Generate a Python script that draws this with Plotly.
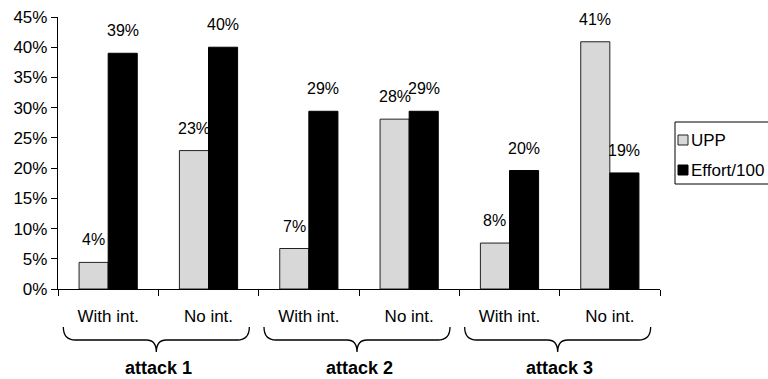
import plotly.graph_objects as go

# Chart data
categories = ["With int.", "No int.", "With int.", "No int.", "With int.", "No int."]
groups = ["attack 1", "attack 2", "attack 3"]
upp = [4.4, 22.9, 6.7, 28.1, 7.6, 40.9]
effort = [39.0, 40.0, 29.4, 29.4, 19.6, 19.2]
series_names = ["UPP", "Effort/100"]
y_ticks = [0, 5, 10, 15, 20, 25, 30, 35, 40, 45]
y_tick_text = [f"{t}%" for t in y_ticks]

FONT = "Liberation Sans, Arial, sans-serif"
W, H = 768, 379
ML, MR, MT, MB = 58, 108, 17, 90
PLOT_W = W - ML - MR
PLOT_H = H - MT - MB

x_pos = list(range(len(categories)))
bar_w = 0.29

fig = go.Figure()
fig.add_trace(go.Bar(
    x=x_pos, y=upp, name=series_names[0], offset=-bar_w, width=bar_w,
    marker=dict(color="#d8d8d8", line=dict(color="#222222", width=1)),
    showlegend=False,
))
fig.add_trace(go.Bar(
    x=x_pos, y=effort, name=series_names[1], offset=0, width=bar_w,
    marker=dict(color="#000000", line=dict(color="#000000", width=1)),
    showlegend=False,
))

annotations = []
# value labels above each bar
for series, shift in ((upp, -bar_w / 2), (effort, bar_w / 2)):
    for i, v in enumerate(series):
        annotations.append(dict(
            x=i + shift, y=v, xref="x", yref="y", text=f"{v:.0f}%",
            showarrow=False, xanchor="center", yanchor="bottom", yshift=12,
            font=dict(family=FONT, size=16, color="black"),
        ))


def px_x(px):
    return (px - ML) / PLOT_W


def px_y(py):
    return (H - MB - py) / PLOT_H


shapes = []
# curly braces grouping the category pairs, with the group titles below
for g, name in enumerate(groups):
    cx = (2 * g + 1) / len(categories)
    shapes.append(dict(
        type="path", xref="paper", yref="paper",
        xsizemode="pixel", ysizemode="pixel", xanchor=cx, yanchor=0,
        path=("M -95,-38 Q -95,-51 -83,-51 L -12,-51 Q -2,-51 -2,-63 "
              "Q -2,-51 8,-51 L 79,-51 Q 91,-51 91,-38"),
        line=dict(color="black", width=1.3),
    ))
    annotations.append(dict(
        x=cx, y=px_y(368), xref="paper", yref="paper", text=f"<b>{name}</b>",
        showarrow=False, xanchor="center", yanchor="middle",
        font=dict(family=FONT, size=18, color="black"),
    ))

# legend box
shapes.append(dict(
    type="rect", xref="paper", yref="paper",
    x0=px_x(675), x1=px_x(800), y0=px_y(184), y1=px_y(122),
    line=dict(color="black", width=1), fillcolor="white",
))
legend_rows = [(series_names[0], "#d8d8d8", "#222222", 140),
               (series_names[1], "#000000", "#000000", 170)]
for label, fill, edge, cy in legend_rows:
    shapes.append(dict(
        type="rect", xref="paper", yref="paper",
        x0=px_x(678), x1=px_x(688), y0=px_y(cy + 5), y1=px_y(cy - 5),
        line=dict(color=edge, width=1), fillcolor=fill,
    ))
    annotations.append(dict(
        x=px_x(689), y=px_y(cy), xref="paper", yref="paper", text=label,
        showarrow=False, xanchor="left", yanchor="middle",
        font=dict(family=FONT, size=17, color="black"),
    ))

fig.update_layout(
    width=W, height=H,
    margin=dict(l=ML, r=MR, t=MT, b=MB, autoexpand=False),
    plot_bgcolor="white", paper_bgcolor="white",
    barmode="overlay",
    shapes=shapes, annotations=annotations,
    font=dict(family=FONT, color="black"),
    xaxis=dict(
        range=[-0.5, len(categories) - 0.5],
        tickvals=x_pos, ticktext=categories, ticks="",
        ticklabelstandoff=11,
        minor=dict(tick0=-0.5, dtick=1, ticks="outside", ticklen=6,
                   tickcolor="black", tickwidth=1.3),
        showline=True, linecolor="black", linewidth=1.3,
        showgrid=False, zeroline=False,
        tickfont=dict(family=FONT, size=17, color="black"),
    ),
    yaxis=dict(
        range=[0, 45], tickvals=y_ticks, ticktext=y_tick_text,
        ticks="outside", ticklen=6, tickcolor="black", tickwidth=1.3,
        showline=True, linecolor="black", linewidth=1.3,
        showgrid=False, zeroline=False,
        tickfont=dict(family=FONT, size=17, color="black"),
    ),
)

fig.write_html("out.html")
